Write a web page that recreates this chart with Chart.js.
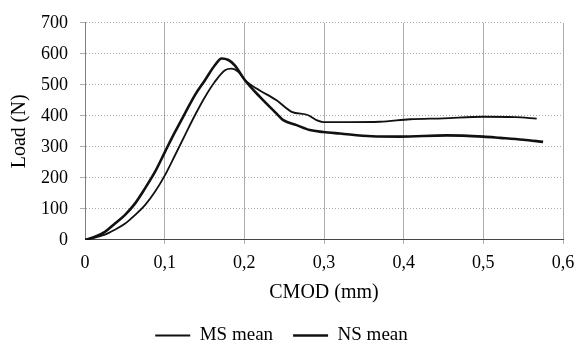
<!DOCTYPE html>
<html>
<head>
<meta charset="utf-8">
<script src="https://cdn.jsdelivr.net/npm/chart.js@4"></script>
<style>
  html, body { margin: 0; padding: 0; background: #fff; }
  #wrap { width: 576px; height: 344px; }
</style>
</head>
<body>
<div id="wrap"><canvas id="chart" width="576" height="344"></canvas></div>
<script>
// Load vs CMOD - mean curves

// MS mean: lower peak, higher residual load
const msCmod = [0, 0.025, 0.0376, 0.05, 0.0627, 0.0753, 0.0878, 0.1004, 0.113, 0.1255, 0.138, 0.1506, 0.163, 0.1757, 0.184, 0.1924, 0.2008, 0.2154, 0.2405, 0.2594, 0.2803, 0.2906, 0.299, 0.3324, 0.37, 0.408, 0.45, 0.5, 0.54, 0.567];
const msLoad = [0, 17, 33, 52, 80, 112, 155, 209, 273, 338, 402, 461, 510, 547, 552, 542, 515, 488, 450, 413, 402, 386, 380, 380, 381, 389, 392, 397, 396, 391];

// NS mean: higher peak, lower residual load
const nsCmod = [0, 0.0125, 0.025, 0.0376, 0.05, 0.0627, 0.0753, 0.0878, 0.1004, 0.113, 0.1255, 0.138, 0.1506, 0.163, 0.1715, 0.18, 0.188, 0.2008, 0.2196, 0.2405, 0.2489, 0.2656, 0.2823, 0.299, 0.3199, 0.36, 0.395, 0.454, 0.5, 0.521, 0.55, 0.575];
const nsLoad = [0, 10, 26, 53, 80, 117, 166, 219, 284, 348, 408, 467, 515, 563, 585, 580, 563, 515, 461, 407, 386, 370, 354, 348, 343, 334, 333, 337, 333, 329, 323, 316];

const xTicks = [0, 0.1, 0.2, 0.3, 0.4, 0.5, 0.6];
const yTicks = [0, 100, 200, 300, 400, 500, 600, 700];

function toPoints(xs, ys) {
    return xs.map((x, i) => ({ x: x, y: ys[i] }));
}

const serif = '"Liberation Serif", "DejaVu Serif", serif';
const gridDots = 'rgba(0,0,0,0.32)';

new Chart(document.getElementById('chart'), {
    type: 'line',
    data: {
        datasets: [
            {
                label: 'MS mean',
                data: toPoints(msCmod, msLoad),
                borderColor: '#111',
                backgroundColor: '#111',
                borderWidth: 1.8,
                pointRadius: 0,
                cubicInterpolationMode: 'monotone'
            },
            {
                label: 'NS mean',
                data: toPoints(nsCmod, nsLoad),
                borderColor: '#111',
                backgroundColor: '#111',
                borderWidth: 2.6,
                pointRadius: 0,
                cubicInterpolationMode: 'monotone'
            }
        ]
    },
    options: {
        responsive: false,
        animation: false,
        // negative bottom padding pushes the legend row down towards the edge
        layout: { padding: { top: 11, right: 13, left: 0, bottom: -11 } },
        plugins: {
            legend: {
                position: 'bottom',
                labels: {
                    color: '#000',
                    font: { family: serif, size: 19 },
                    usePointStyle: true,
                    pointStyle: 'line',
                    pointStyleWidth: 35,
                    padding: 20
                }
            },
            tooltip: { enabled: false }
        },
        scales: {
            x: {
                type: 'linear',
                min: 0,
                max: 0.6,
                afterBuildTicks: s => { s.ticks = xTicks.map(v => ({ value: v })); },
                // keep the plot right edge fixed by the layout padding only
                afterFit: s => { s.paddingLeft = 0; s.paddingRight = 0; },
                ticks: {
                    color: '#000',
                    font: { family: serif, size: 18 },
                    padding: 8.5,
                    callback: v => v === 0 ? '0' : v.toFixed(1).replace('.', ',')
                },
                grid: {
                    color: ctx => ctx.index === 0 ? 'rgba(0,0,0,0)' : gridDots,
                    borderDash: [1, 5],
                    tickLength: 4
                },
                border: { color: '#444', width: 1 },
                title: {
                    display: true,
                    text: 'CMOD (mm)',
                    color: '#000',
                    font: { family: serif, size: 20, lineHeight: 1.0 },
                    padding: { top: 0, bottom: 3.5 }
                }
            },
            y: {
                min: 0,
                max: 700,
                afterBuildTicks: s => { s.ticks = yTicks.map(v => ({ value: v })); },
                afterFit: s => { s.width = 85; },
                ticks: {
                    color: '#000',
                    font: { family: serif, size: 18 },
                    padding: 12
                },
                grid: {
                    color: ctx => ctx.index === 0 ? 'rgba(0,0,0,0)' : gridDots,
                    borderDash: [1, 5],
                    tickLength: 5
                },
                border: { color: 'rgba(0,0,0,0.5)', dash: [1, 2] },
                title: {
                    display: true,
                    text: 'Load (N)',
                    color: '#000',
                    font: { family: serif, size: 20 },
                    padding: { top: 8, bottom: 0 }
                }
            }
        }
    }
});
</script>
</body>
</html>
